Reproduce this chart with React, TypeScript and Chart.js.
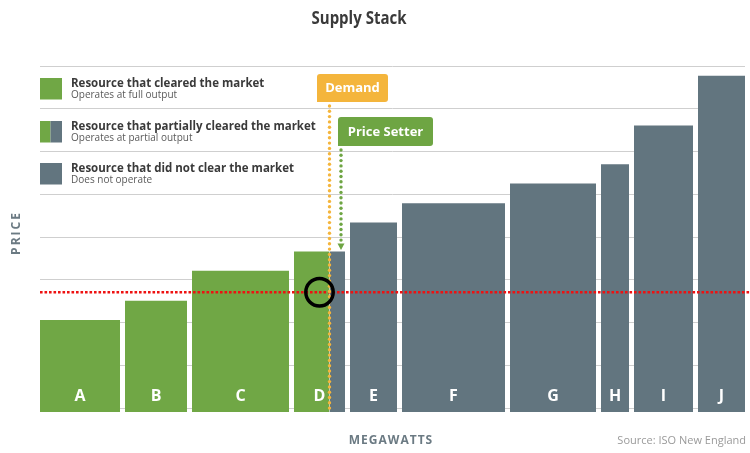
import React, { useEffect, useRef } from "react";
import { Chart, registerables } from "chart.js";

Chart.register(...registerables);

// ---- data ----
const RESOURCES = ["A", "B", "C", "D", "E", "F", "G", "H", "I", "J"];
const CAPACITY_MW = [850, 670, 1020, 560, 520, 1080, 910, 330, 640, 520];
const OFFER_PRICE = [20.6, 25.1, 32.1, 36.6, 43.4, 47.9, 52.5, 57.0, 66.1, 77.7];
const DEMAND_MW = 2920;
const CLEARING_PRICE = 27.1;
const PRICE_GRID = [0, 10, 20, 30, 40, 50, 60, 70, 80];
const LEGEND_TITLES = [
  "Resource that cleared the market",
  "Resource that partially cleared the market",
  "Resource that did not clear the market",
];
const LEGEND_NOTES = ["Operates at full output", "Operates at partial output", "Does not operate"];

// ---- styles ----
const GREEN = "#70a745";
const GREY = "#62757f";
const ORANGE = "#f4b53c";
const GAP_MW = 50;
const FONT = "'Open Sans', 'DejaVu Sans', sans-serif";

function buildBars() {
  const bars: { name: string; x0: number; x1: number; price: number }[] = [];
  let start = 0;
  CAPACITY_MW.forEach((cap, i) => {
    bars.push({ name: RESOURCES[i], x0: start + GAP_MW / 2, x1: start + cap - GAP_MW / 2, price: OFFER_PRICE[i] });
    start += cap;
  });
  return { bars, total: start };
}

export default function App() {
  const ref = useRef<HTMLCanvasElement>(null);

  useEffect(() => {
    const { bars, total } = buildBars();
    const datasets: any[] = [];
    const rect = (a: number, b: number, p: number, color: string) => ({
      data: [
        { x: a, y: 0 },
        { x: a, y: p },
        { x: b, y: p },
        { x: b, y: 0 },
      ],
      showLine: true,
      fill: "start",
      backgroundColor: color,
      borderColor: "rgba(0,0,0,0)",
      borderWidth: 0,
      pointRadius: 0,
      pointHoverRadius: 0,
      tension: 0,
    });
    bars.forEach((b) => {
      if (DEMAND_MW > b.x0 && DEMAND_MW < b.x1) {
        datasets.push(rect(b.x0, DEMAND_MW, b.price, GREEN));
        datasets.push(rect(DEMAND_MW, b.x1, b.price, GREY));
      } else {
        datasets.push(rect(b.x0, b.x1, b.price, b.x1 <= DEMAND_MW ? GREEN : GREY));
      }
    });

    const dotted = (ctx: CanvasRenderingContext2D, x: number, y0: number, y1: number, color: string) => {
      ctx.fillStyle = color;
      for (let y = y0; y <= y1; y += 5.3) {
        ctx.beginPath();
        ctx.arc(x, y, 1.7, 0, Math.PI * 2);
        ctx.fill();
      }
    };

    const overlay = {
      id: "overlay",
      afterDatasetsDraw(chart: any) {
        const ctx: CanvasRenderingContext2D = chart.ctx;
        const xs = chart.scales.x;
        const ys = chart.scales.y;
        const area = chart.chartArea;
        ctx.save();

        // bar letters
        ctx.fillStyle = "#ffffff";
        ctx.font = `bold 16px ${FONT}`;
        ctx.textAlign = "center";
        ctx.textBaseline = "middle";
        bars.forEach((b) => {
          const cx = (xs.getPixelForValue(b.x0) + xs.getPixelForValue(b.x1)) / 2;
          ctx.fillText(b.name, cx, area.bottom - 16);
        });

        // clearing price line
        const py = ys.getPixelForValue(CLEARING_PRICE);
        ctx.strokeStyle = "#ee1111";
        ctx.lineWidth = 2.6;
        ctx.setLineDash([2.6, 1.9]);
        ctx.beginPath();
        ctx.moveTo(area.left, py);
        ctx.lineTo(chart.width, py);
        ctx.stroke();
        ctx.setLineDash([]);

        // demand
        const dx = xs.getPixelForValue(DEMAND_MW);
        dotted(ctx, dx, 106, area.bottom - 1, ORANGE);

        // price setter marker
        const setter = bars.find((b) => DEMAND_MW > b.x0 && DEMAND_MW < b.x1)!;
        const sx = xs.getPixelForValue(setter.x1) - 4;
        const sTop = ys.getPixelForValue(setter.price);
        dotted(ctx, sx, 150, sTop - 10, "#6ea543");
        ctx.fillStyle = "#6ea543";
        ctx.beginPath();
        ctx.moveTo(sx - 3.5, sTop - 8);
        ctx.lineTo(sx + 3.5, sTop - 8);
        ctx.lineTo(sx, sTop - 1.5);
        ctx.closePath();
        ctx.fill();

        // boxes
        ctx.fillStyle = ORANGE;
        ctx.beginPath();
        (ctx as any).roundRect(dx - 12.5, 74, 71, 28, [3, 3, 3, 0]);
        ctx.fill();
        ctx.fillStyle = "#6ea543";
        ctx.beginPath();
        (ctx as any).roundRect(sx - 3, 117, 95, 29, [3, 3, 3, 0]);
        ctx.fill();
        ctx.fillStyle = "#ffffff";
        ctx.font = `bold 13px ${FONT}`;
        ctx.textAlign = "center";
        ctx.textBaseline = "middle";
        ctx.fillText("Demand", dx - 12.5 + 35.5, 88.5);
        ctx.fillText("Price Setter", sx - 3 + 47.5, 132);

        // circle at clearing point
        const cx = (xs.getPixelForValue(setter.x0) + xs.getPixelForValue(setter.x1)) / 2;
        ctx.strokeStyle = "#000000";
        ctx.lineWidth = 3.5;
        ctx.beginPath();
        ctx.arc(cx, py, 13.7, 0, Math.PI * 2);
        ctx.stroke();

        // legend
        const rows = [78, 121, 163];
        rows.forEach((top, i) => {
          if (i === 0) {
            ctx.fillStyle = GREEN;
            ctx.fillRect(40, top, 22, 21.5);
          } else if (i === 1) {
            ctx.fillStyle = GREEN;
            ctx.fillRect(40, top, 10.5, 21.5);
            ctx.fillStyle = GREY;
            ctx.fillRect(50.5, top, 11.5, 21.5);
          } else {
            ctx.fillStyle = GREY;
            ctx.fillRect(40, top, 22, 21.5);
          }
          ctx.textAlign = "left";
          ctx.textBaseline = "alphabetic";
          ctx.fillStyle = "#3a3a3a";
          ctx.font = `bold 11.5px ${FONT}`;
          ctx.fillText(LEGEND_TITLES[i], 71, top + 8.7);
          ctx.fillStyle = "#5a5a5a";
          ctx.font = `10px ${FONT}`;
          ctx.fillText(LEGEND_NOTES[i], 71, top + 19.8);
        });

        // title
        ctx.fillStyle = "#3a3a3a";
        ctx.font = `bold 18px ${FONT}`;
        const tw = ctx.measureText("Supply Stack").width;
        ctx.save();
        ctx.translate(359, 24);
        ctx.scale(95 / tw, 1);
        ctx.textAlign = "center";
        ctx.textBaseline = "alphabetic";
        ctx.fillText("Supply Stack", 0, 0);
        ctx.restore();

        // axis titles
        ctx.fillStyle = "#6b7a83";
        ctx.font = `bold 12px ${FONT}`;
        (ctx as any).letterSpacing = "1px";
        ctx.textAlign = "center";
        ctx.textBaseline = "middle";
        ctx.fillText("MEGAWATTS", 391, 441);
        ctx.save();
        ctx.translate(16.5, 234);
        ctx.rotate(-Math.PI / 2);
        (ctx as any).letterSpacing = "2px";
        ctx.fillText("PRICE", 1, 0);
        ctx.restore();
        (ctx as any).letterSpacing = "0px";
        ctx.fillStyle = "#9a9a9a";
        ctx.font = `11px ${FONT}`;
        ctx.textAlign = "right";
        ctx.fillText("Source: ISO New England", 746, 441);

        ctx.restore();
      },
    };

    const chart = new Chart(ref.current!, {
      type: "scatter",
      data: { datasets },
      options: {
        animation: false,
        responsive: false,
        events: [],
        layout: { padding: { left: 40, right: 5, top: 66, bottom: 41 } },
        plugins: { legend: { display: false }, tooltip: { enabled: false }, title: { display: false } },
        scales: {
          x: { type: "linear", min: GAP_MW / 2, max: total - GAP_MW / 2, display: false },
          y: {
            type: "linear",
            min: -0.9,
            max: 80,
            afterBuildTicks: (scale: any) => {
              scale.ticks = PRICE_GRID.map((v) => ({ value: v }));
            },
            ticks: { display: false },
            border: { display: false },
            grid: { color: "#cfcfcf", lineWidth: 1, drawTicks: false },
          },
        },
      },
      plugins: [overlay],
    });
    return () => chart.destroy();
  }, []);

  return (
    <div style={{ position: "absolute", left: 0, top: 0, width: 750, height: 453, background: "#fff" }}>
      <canvas ref={ref} width={750} height={453} style={{ display: "block" }} />
    </div>
  );
}
